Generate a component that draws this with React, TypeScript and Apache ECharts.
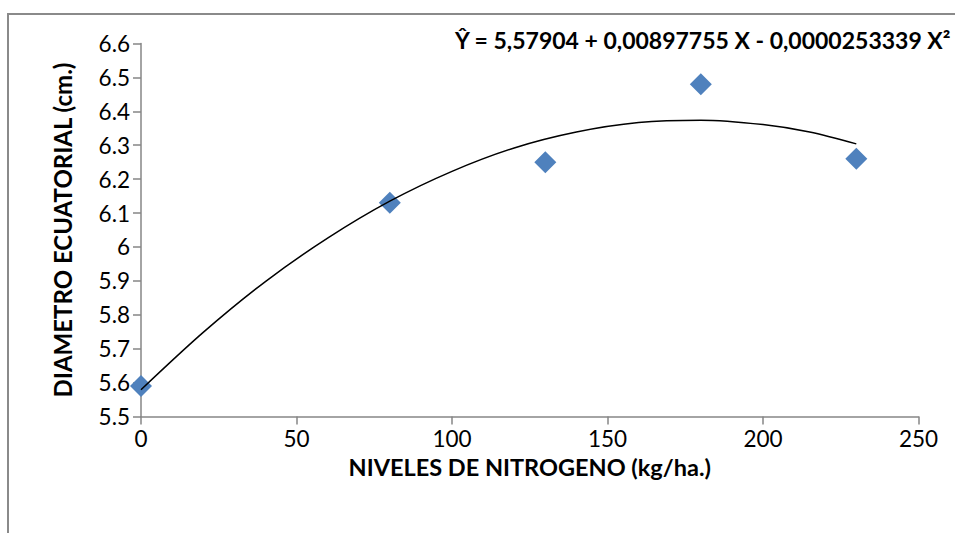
import React, { useEffect, useRef } from "react";
import * as echarts from "echarts";

const pointX = [0, 80, 130, 180, 230];
const pointY = [5.59, 6.13, 6.25, 6.48, 6.26];

const trendX = [0, 20, 40, 60, 80, 100, 120, 140, 160, 180, 200, 215, 230];
const trendY = [5.579, 5.748, 5.898, 6.026, 6.135, 6.223, 6.292, 6.339, 6.367, 6.374, 6.361, 6.339, 6.304];

const equationText = "Ŷ = 5,57904 + 0,00897755 X - 0,0000253339 X²";
const xAxisTitle = "NIVELES DE NITROGENO (kg/ha.)";
const yAxisTitle = "DIAMETRO ECUATORIAL (cm.)";

const FONT = "Lato, 'Open Sans', sans-serif";

export default function App() {
  const ref = useRef<HTMLDivElement>(null);
  useEffect(() => {
    if (!ref.current) return;
    const chart = echarts.init(ref.current, undefined, { renderer: "svg" });
    chart.setOption({
      animation: false,
      backgroundColor: "#ffffff",
      grid: { left: 141, right: 36.5, top: 43.5, bottom: 116.5, containLabel: false },
      xAxis: {
        type: "value",
        min: 0,
        max: 250,
        interval: 50,
        splitLine: { show: false },
        axisLine: { show: true, onZero: false, lineStyle: { color: "#868686", width: 1.5 } },
        axisTick: { show: true, inside: false, length: 8, lineStyle: { color: "#868686", width: 1.5 } },
        axisLabel: { color: "#000", fontFamily: FONT, fontSize: 22.5, margin: 10 },
        name: xAxisTitle,
        nameLocation: "middle",
        nameGap: 38,
        nameTextStyle: { color: "#000", fontFamily: FONT, fontSize: 23.5, fontWeight: "bold", verticalAlign: "top" },
      },
      yAxis: {
        type: "value",
        min: 5.5,
        max: 6.6,
        interval: 0.1,
        splitLine: { show: false },
        axisLine: { show: true, onZero: false, lineStyle: { color: "#868686", width: 1.5 } },
        axisTick: { show: true, inside: false, length: 8, lineStyle: { color: "#868686", width: 1.5 } },
        axisLabel: {
          color: "#000",
          fontFamily: FONT,
          fontSize: 22.5,
          margin: 11,
          formatter: (v: number) => String(Math.round(v * 10) / 10),
        },
        name: yAxisTitle,
        nameLocation: "middle",
        nameGap: 79,
        nameRotate: 90,
        nameTextStyle: { color: "#000", fontFamily: FONT, fontSize: 24, fontWeight: "bold", verticalAlign: "middle" },
      },
      graphic: [
        {
          type: "rect",
          shape: { x: 8, y: 14, width: 1000, height: 600 },
          style: { fill: "none", stroke: "#8a8a8a", lineWidth: 2 },
          silent: true,
          z: -10,
        },
        {
          type: "text",
          x: 455,
          y: 40,
          style: {
            text: equationText,
            fontFamily: FONT,
            fontSize: 23,
            fontWeight: "bold",
            fill: "#000",
            verticalAlign: "middle",
            align: "left",
          },
          z: 10,
        },
      ],
      series: [
        {
          type: "line",
          data: trendX.map((x, i) => [x, trendY[i]]),
          smooth: 0.3,
          showSymbol: false,
          symbol: "none",
          lineStyle: { color: "#000", width: 1.5 },
          z: 3,
        },
        {
          type: "scatter",
          data: pointX.map((x, i) => [x, pointY[i]]),
          symbol: "diamond",
          symbolSize: 22,
          itemStyle: { color: "#4F81BD", opacity: 1 },
          z: 2,
        },
      ],
    });
    return () => chart.dispose();
  }, []);
  return (
    <div
      ref={ref}
      style={{ position: "fixed", left: 0, top: 0, width: 955, height: 533, background: "#fff" }}
    />
  );
}
